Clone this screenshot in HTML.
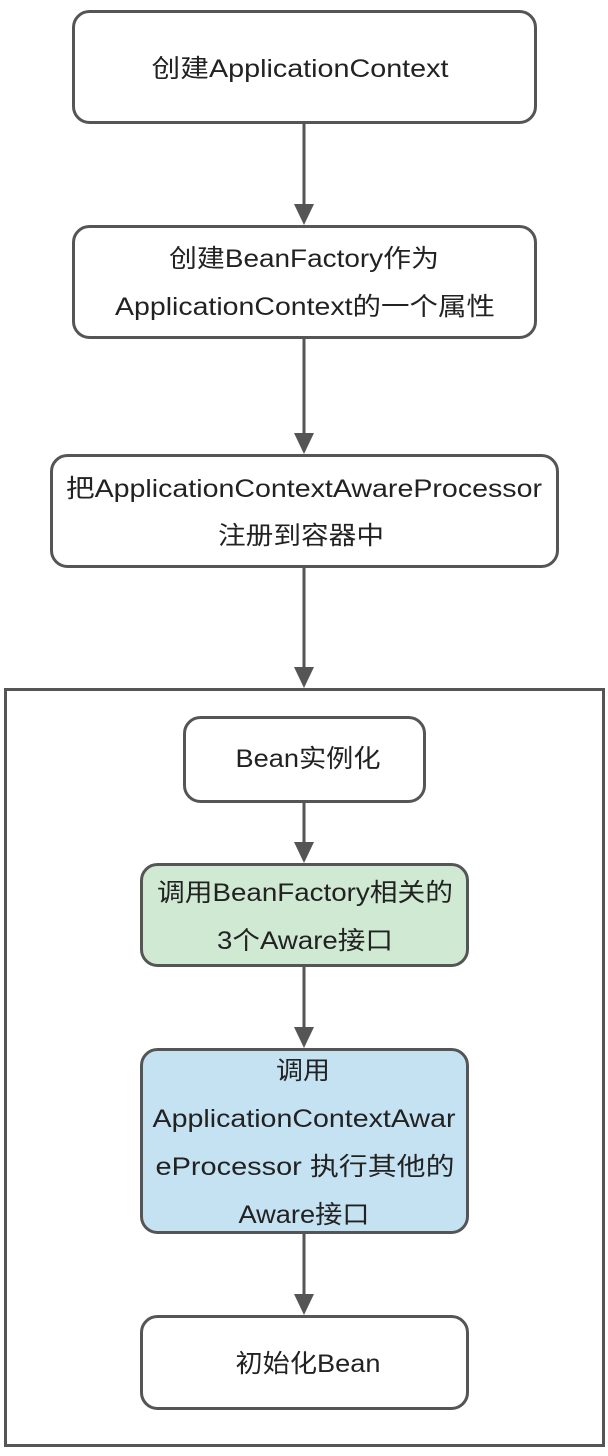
<!DOCTYPE html>
<html><head><meta charset="utf-8"><style>
html,body{margin:0;padding:0;background:#fff;}
svg{display:block}
text{font-family:"Liberation Sans","Noto Sans CJK SC",sans-serif;font-size:25px;fill:#222;text-anchor:middle;}
</style></head><body>
<svg width="608" height="1456" viewBox="0 0 608 1456" xmlns="http://www.w3.org/2000/svg">
<g stroke="#555" stroke-width="3" fill="#fff">
<rect x="73.5" y="11.5" width="462" height="111" rx="16"/>
<rect x="73.5" y="226.5" width="462" height="111" rx="16"/>
<rect x="51.5" y="455.5" width="506" height="111" rx="16"/>
<rect x="5.5" y="689.5" width="598" height="756" rx="0"/>
<rect x="184.5" y="717.5" width="240" height="84" rx="16"/>
<rect x="141.5" y="864.5" width="326" height="101" rx="16" fill="#d0e9d2"/>
<rect x="141.5" y="1049.5" width="326" height="183" rx="16" fill="#c5e2f3"/>
<rect x="141.5" y="1316.5" width="326" height="92" rx="16"/>
<line x1="304" y1="123" x2="304" y2="208"/>
<line x1="304" y1="338" x2="304" y2="437"/>
<line x1="304" y1="567" x2="304" y2="671"/>
<line x1="304" y1="802" x2="304" y2="846"/>
<line x1="304" y1="966" x2="304" y2="1031"/>
<line x1="304" y1="1233" x2="304" y2="1298"/>
</g>
<g fill="#555">
<polygon points="294,204 314,204 304,225"/>
<polygon points="294,433 314,433 304,454"/>
<polygon points="294,667 314,667 304,688"/>
<polygon points="294,842 314,842 304,863"/>
<polygon points="294,1027 314,1027 304,1048"/>
<polygon points="294,1294 314,1294 304,1315"/>
</g>
<g>
<text x="300" y="77" textLength="297" lengthAdjust="spacingAndGlyphs">创建ApplicationContext</text>
<text x="304" y="267" textLength="270" lengthAdjust="spacingAndGlyphs">创建BeanFactory作为</text>
<text x="305" y="315" textLength="380" lengthAdjust="spacingAndGlyphs">ApplicationContext的一个属性</text>
<text x="304" y="497" textLength="476" lengthAdjust="spacingAndGlyphs">把ApplicationContextAwareProcessor</text>
<text x="301" y="544" textLength="166" lengthAdjust="spacingAndGlyphs">注册到容器中</text>
<text x="308" y="767" textLength="145" lengthAdjust="spacingAndGlyphs">Bean实例化</text>
<text x="305" y="901" textLength="296" lengthAdjust="spacingAndGlyphs">调用BeanFactory相关的</text>
<text x="305" y="949" textLength="176" lengthAdjust="spacingAndGlyphs">3个Aware接口</text>
<text x="303" y="1079" textLength="54" lengthAdjust="spacingAndGlyphs">调用</text>
<text x="304" y="1127" textLength="303" lengthAdjust="spacingAndGlyphs">ApplicationContextAwar</text>
<text x="305" y="1175" textLength="299" lengthAdjust="spacingAndGlyphs">eProcessor 执行其他的</text>
<text x="304" y="1223" textLength="131" lengthAdjust="spacingAndGlyphs">Aware接口</text>
<text x="308" y="1372" textLength="145" lengthAdjust="spacingAndGlyphs">初始化Bean</text>
</g>
</svg>
</body></html>
